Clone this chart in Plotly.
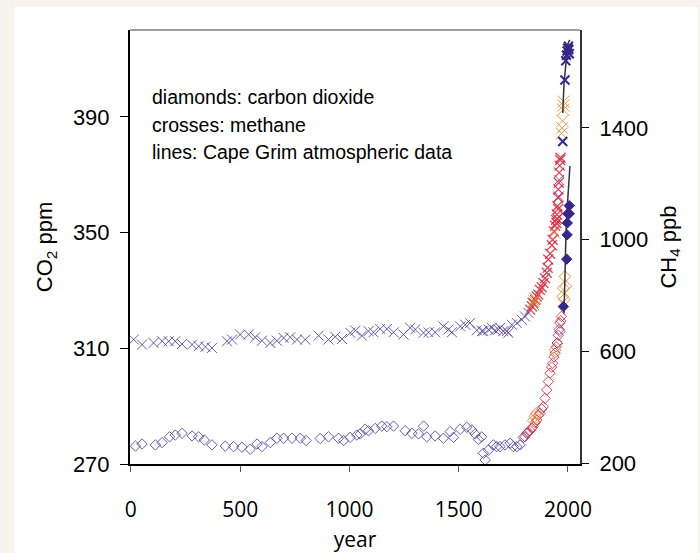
import plotly.graph_objects as go

# ---------------- data ----------------
# CO2, pre-industrial ice core (blue open diamonds)
co2_blue_year = [21, 51, 112, 143, 177, 203, 234, 280, 310, 336, 371, 432, 470, 508, 546, 577, 600,
                 638, 668, 699, 737, 775, 802, 866, 904, 950, 973, 1003, 1034, 1049, 1072, 1087, 1118,
                 1148, 1171, 1202, 1255, 1286, 1316, 1339, 1354, 1392, 1430, 1461, 1476, 1507, 1537,
                 1560, 1575, 1590, 1605, 1613, 1621, 1636, 1659, 1674, 1689, 1712, 1735, 1750, 1766,
                 1781, 1796, 1811, 1951, 1963]
co2_blue_val = [276.2, 276.9, 276.6, 277.4, 279.4, 280.0, 280.6, 279.7, 279.4, 278.3, 276.6, 276.2, 276.0,
                275.8, 275.1, 276.9, 276.0, 277.4, 278.9, 278.9, 278.9, 278.9, 278.1, 278.8, 279.4, 278.9,
                278.1, 279.2, 280.0, 280.4, 282.0, 281.5, 282.3, 283.1, 282.9, 283.1, 281.5, 280.6, 280.4,
                283.1, 279.4, 279.7, 278.9, 281.2, 279.2, 282.0, 282.7, 281.8, 280.4, 278.5, 279.4, 273.7,
                271.4, 274.8, 276.6, 276.0, 276.0, 276.6, 277.2, 276.0, 276.0, 276.6, 279.2, 280.6,
                311.8, 315.8]

# CO2, red open diamonds
co2_red_year = [1803, 1815, 1827, 1835, 1841, 1850, 1857, 1865, 1872, 1880, 1887, 1895, 1903, 1910,
                1918, 1925, 1930, 1936, 1941, 1946, 1951, 1956, 1960, 1963, 1967, 1970]
co2_red_val = [279.4, 280.8, 281.5, 282.4, 282.9, 284.3, 285.2, 286.8, 287.5, 289.0, 289.8, 292.7, 295.6,
               298.5, 301.4, 303.5, 304.8, 307.0, 308.3, 310.5, 311.8, 314.5, 316.5, 318.7, 319.5, 321.0]

# CO2, orange open diamonds
co2_orange_year = [1841, 1848, 1855, 1941, 1976, 1979, 1983, 1986, 1990]
co2_orange_val = [285.0, 286.5, 287.5, 309.4, 327.9, 330.8, 326.8, 334.8, 331.4]

# CO2, blue filled diamonds
co2_filled_year = [1979, 1994, 1996, 1997, 1999, 2006, 2006]
co2_filled_val = [324.4, 340.8, 349.2, 353.3, 356.5, 356.5, 359.3]

# CO2, Cape Grim atmospheric record (line)
co2_cg_year = [1982, 1985, 1988, 1991, 1995, 2000, 2004, 2007, 2009]
co2_cg_val = [322, 335, 343, 350, 357, 364, 369, 372, 373]

# CH4, pre-industrial (blue crosses)
ch4_blue_year = [13, 51, 104, 143, 173, 203, 234, 280, 310, 341, 371, 440, 463, 500, 539, 569, 600, 638,
                 668, 699, 729, 760, 798, 859, 904, 935, 966, 1004, 1027, 1057, 1087, 1110, 1141, 1171,
                 1202, 1247, 1278, 1301, 1339, 1362, 1392, 1430, 1453, 1469, 1507, 1530, 1552, 1583,
                 1606, 1613, 1636, 1651, 1667, 1681, 1690, 1704, 1720, 1727, 1743, 1766, 1788, 1803,
                 1819, 1960, 1958]
ch4_blue_val = [643, 625, 631, 637, 637, 637, 627, 625, 619, 617, 613, 637, 643, 661, 661, 651, 639, 631,
                639, 649, 651, 643, 643, 657, 643, 653, 645, 667, 675, 657, 673, 669, 681, 681, 669, 661,
                685, 679, 667, 669, 669, 690, 679, 669, 690, 696, 702, 676, 673, 673, 679, 685, 676, 679,
                685, 673, 673, 667, 696, 702, 714, 726, 738, 1214, 1155]

# CH4, red crosses
ch4_red_year = [1827, 1835, 1841, 1850, 1857, 1864, 1872, 1880, 1888, 1895, 1903, 1907, 1910, 1918, 1926,
                1930, 1936, 1941, 1945, 1947, 1949, 1951, 1952, 1955, 1955, 1956, 1958, 1960, 1962, 1964,
                1966]
ch4_red_val = [750, 762, 774, 785, 797, 804, 820, 830, 845, 862, 882, 900, 929, 950, 980, 1000, 1030, 1050,
               1071, 1060, 1090, 1075, 1120, 1110, 1150, 1180, 1204, 1240, 1265, 1285, 1293]

# CH4, orange crosses
ch4_orange_year = [1840, 1845, 1850, 1938, 1971, 1973, 1975, 1978, 1979, 1980]
ch4_orange_val = [770, 780, 790, 1025, 1380, 1400, 1425, 1465, 1480, 1494]

# CH4, modern (dark blue crosses)
ch4_dark_year = [1976, 1986, 1990, 1993, 1996, 1999, 2002, 2004, 2006]
ch4_dark_val = [1351, 1571, 1640, 1660, 1675, 1685, 1692, 1680, 1665]

# CH4, Cape Grim atmospheric record (line)
ch4_cg_year = [1976, 1982, 1991, 1997, 2003, 2009]
ch4_cg_val = [1453, 1561, 1633, 1692, 1708, 1714]

x_ticks = [0, 500, 1000, 1500, 2000]
co2_ticks = [270, 310, 350, 390]
ch4_ticks = [200, 600, 1000, 1400]

# ---------------- styles ----------------
BLUE = "rgba(80,62,160,0.85)"
DARK = "#35288a"
RED = "rgba(214,36,60,0.85)"
ORANGE = "rgba(232,140,50,0.9)"
TICKFONT = dict(family="Liberation Sans, Arial", size=22, color="black")

fig = go.Figure()


def dia(x, y, color, filled=False, size=8):
    return go.Scatter(x=x, y=y, mode="markers", showlegend=False,
                      marker=dict(symbol="diamond" if filled else "diamond-open", size=size,
                                  color=color, line=dict(color=color, width=1)))


def cross(x, y, color, size=10, width=1):
    return go.Scatter(x=x, y=y, mode="markers", yaxis="y2", showlegend=False,
                      marker=dict(symbol="x-thin-open", size=size, color=color,
                                  line=dict(color=color, width=width)))


fig.add_trace(dia(co2_blue_year, co2_blue_val, BLUE))
fig.add_trace(dia(co2_red_year, co2_red_val, RED))
fig.add_trace(dia(co2_orange_year, co2_orange_val, ORANGE, size=9))
fig.add_trace(go.Scatter(x=co2_cg_year, y=co2_cg_val, mode="lines", showlegend=False,
                         line=dict(color="#333333", width=1.5)))
fig.add_trace(dia(co2_filled_year, co2_filled_val, DARK, filled=True, size=8))

fig.add_trace(cross(ch4_blue_year, ch4_blue_val, BLUE))
fig.add_trace(cross(ch4_red_year, ch4_red_val, RED, width=1.3))
fig.add_trace(cross(ch4_orange_year, ch4_orange_val, ORANGE, size=12))
fig.add_trace(go.Scatter(x=ch4_cg_year, y=ch4_cg_val, mode="lines", yaxis="y2", showlegend=False,
                         line=dict(color="#333333", width=1.5)))
fig.add_trace(cross(ch4_dark_year, ch4_dark_val, DARK, size=9, width=2))

# white panel on beige page
fig.add_shape(type="rect", xref="paper", yref="paper", x0=-116 / 450, x1=568 / 450,
              y0=-100 / 434, y1=457 / 434, fillcolor="white", line_width=0, layer="below")
# top frame line
fig.add_shape(type="line", xref="paper", yref="paper", x0=0, x1=1, y0=1, y1=1,
              line=dict(color="#808080", width=1.5))

for i, t in enumerate(["diamonds: carbon dioxide", "crosses: methane", "lines: Cape Grim atmospheric data"]):
    fig.add_annotation(x=(150 - 130) / 450, y=(464 - (97 + 27.5 * i)) / 434, xref="paper", yref="paper",
                       text=t, showarrow=False, xanchor="left", yanchor="middle",
                       font=dict(family="Liberation Sans, Arial", size=19.5, color="black"))

fig.update_layout(
    width=700, height=553,
    margin=dict(l=130, r=120, t=30, b=89, autoexpand=False),
    paper_bgcolor="#f7f3ed", plot_bgcolor="white",
    xaxis=dict(range=[-4, 2055], tickvals=x_ticks, ticks="outside", ticklen=6, tickcolor="#555",
               showgrid=False, zeroline=False, showline=True, linecolor="black", linewidth=2,
               automargin=False,
               tickfont=dict(family="Open Sans, Liberation Sans", size=21, color="black"),
               ticklabelstandoff=20,
               title=dict(text="year", font=dict(family="Open Sans, Liberation Sans", size=21, color="black"),
                          standoff=14)),
    yaxis=dict(range=[270, 420], tickvals=co2_ticks, ticks="outside", ticklen=8, tickcolor="black",
               showgrid=False, zeroline=False, showline=True, linecolor="black", linewidth=2,
               automargin=False,
               tickfont=TICKFONT, ticklabelstandoff=6,
               title=dict(text="CO<sub>2</sub> ppm", font=dict(family="Liberation Sans, Arial", size=22, color="black"),
                          standoff=14)),
    yaxis2=dict(range=[198, 1750], tickvals=ch4_ticks, overlaying="y", side="right", anchor="x",
                ticks="outside", ticklen=7, tickcolor="black", automargin=False,
                showgrid=False, zeroline=False, showline=True, linecolor="#333", linewidth=2,
                tickfont=TICKFONT, ticklabelstandoff=6,
                title=dict(text="CH<sub>4</sub> ppb", font=dict(family="Liberation Sans, Arial", size=22, color="black"),
                           standoff=13)),
)

fig.write_html("out.html", config={"displayModeBar": False},
               post_script="document.body.style.margin='0';")
